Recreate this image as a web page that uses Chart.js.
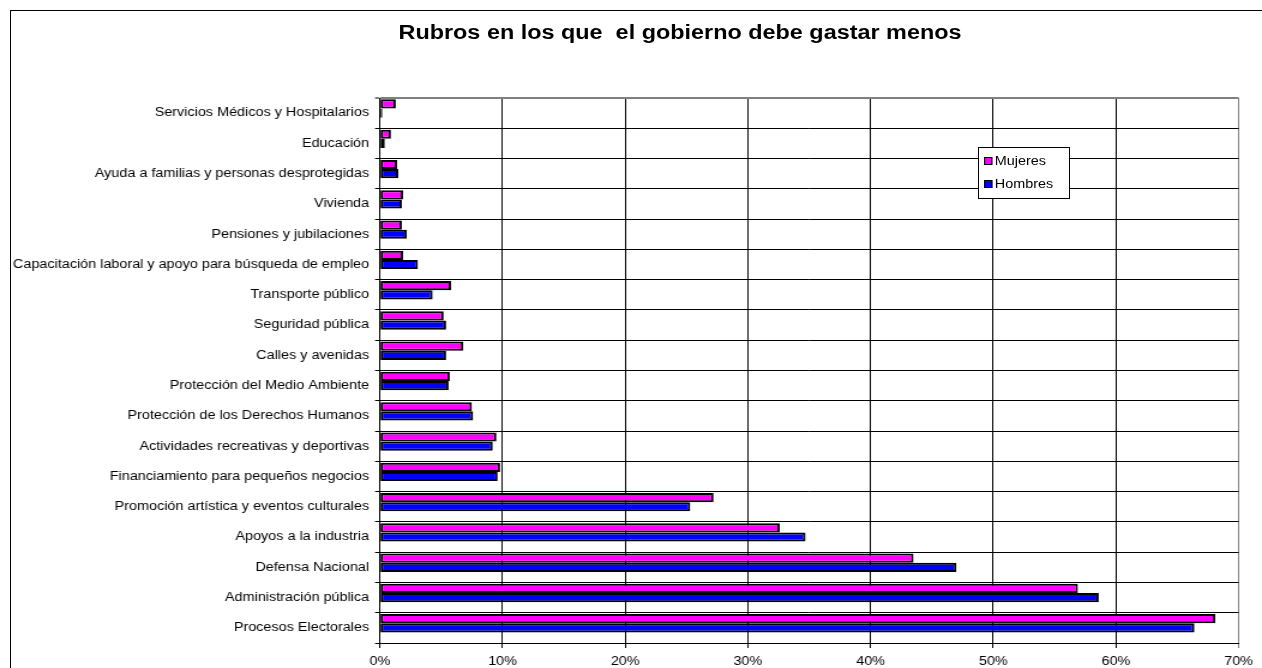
<!DOCTYPE html>
<html>
<head>
<meta charset="utf-8">
<script src="https://cdn.jsdelivr.net/npm/chart.js@4.4.0/dist/chart.umd.min.js"></script>
<style>
  body { margin: 0; background: #fff; }
  #wrap { position: relative; width: 1262px; height: 668px; overflow: hidden; }
  /* the original picture is stretched sideways, so the canvas is too */
  #chart { position: absolute; left: 0; top: 0; width: 1262px !important; height: 668px !important; }
  #frame { position: absolute; left: 10px; top: 10px; width: 1262px; height: 680px; border: 1px solid #000; box-sizing: border-box; pointer-events: none; }
  #title { position: absolute; left: 0; width: 1360px; top: 21px; text-align: center; font: bold 19.5px "Liberation Sans", Arial, sans-serif; white-space: pre; transform: scaleX(1.2); transform-origin: 680px 0; }
  #legend { position: absolute; left: 978px; top: 147px; width: 92px; height: 52px; border: 1px solid #000; background: #fff; box-sizing: border-box; font: 12px "Liberation Sans", Arial, sans-serif; }
  .item { position: absolute; left: 5px; height: 14px; line-height: 14px; transform: scaleX(1.2); transform-origin: 0 0; white-space: nowrap; }
  .sw { display: inline-block; width: 5px; height: 6px; border: 1px solid #000; margin-right: 2px; vertical-align: 0px; }
</style>
</head>
<body>
<div id="wrap">
  <canvas id="chart" width="1052" height="668"></canvas>
  <div id="frame"></div>
  <div id="title">Rubros en los que  el gobierno debe gastar menos</div>
  <div id="legend">
    <div class="item" style="top:6px"><span class="sw" style="background:#ff00ff"></span>Mujeres</div>
    <div class="item" style="top:29px"><span class="sw" style="background:#0000ff"></span>Hombres</div>
  </div>
</div>
<script>
// categorías (de arriba hacia abajo)
const rubros = [
  'Servicios Médicos y Hospitalarios',
  'Educación',
  'Ayuda a familias y personas desprotegidas',
  'Vivienda',
  'Pensiones y jubilaciones',
  'Capacitación laboral y apoyo para búsqueda de empleo',
  'Transporte público',
  'Seguridad pública',
  'Calles y avenidas',
  'Protección del Medio Ambiente',
  'Protección de los Derechos Humanos',
  'Actividades recreativas y deportivas',
  'Financiamiento para pequeños negocios',
  'Promoción artística y eventos culturales',
  'Apoyos a la industria',
  'Defensa Nacional',
  'Administración pública',
  'Procesos Electorales'
];

// porcentajes
const mujeres = [1.3, 0.9, 1.4, 1.9, 1.8, 1.9, 5.8, 5.2, 6.8, 5.7, 7.5, 9.5, 9.8, 27.2, 32.6, 43.5, 56.9, 68.1];
const hombres = [0.2, 0.4, 1.5, 1.8, 2.2, 3.1, 4.3, 5.4, 5.4, 5.6, 7.6, 9.2, 9.6, 25.3, 34.7, 47.0, 58.6, 66.4];

const xTicks = [0, 10, 20, 30, 40, 50, 60, 70];

const SX = 1.2; // estiramiento horizontal
const font = { family: '"Liberation Sans", Arial, sans-serif', size: 12 };

const chart = new Chart(document.getElementById('chart'), {
  type: 'bar',
  data: {
    labels: rubros,
    datasets: [
      { label: 'Mujeres', data: mujeres, backgroundColor: '#ff00ff', borderColor: '#000', borderWidth: 2, borderSkipped: false },
      { label: 'Hombres', data: hombres, backgroundColor: '#0000ff', borderColor: '#000', borderWidth: 2, borderSkipped: false },
      // hueco vacío debajo de cada par, como en Excel
      { label: '', data: rubros.map(() => null) }
    ]
  },
  options: {
    indexAxis: 'y',
    responsive: false,
    animation: false,
    categoryPercentage: 0.91,
    barPercentage: 1.0,
    layout: { padding: { top: 98, right: 1052 - 1239 / SX, left: 0, bottom: 0 } },
    plugins: { legend: { display: false }, title: { display: false }, tooltip: { enabled: false } },
    scales: {
      x: {
        min: 0, max: 70,
        afterBuildTicks: s => { s.ticks = xTicks.map(v => ({ value: v })); },
        afterFit: s => { s.height = 25; },
        grid: { color: c => (c.tick && c.tick.value === 70) ? '#808080' : '#000', lineWidth: 1, tickLength: 5 },
        border: { color: '#000', width: 1 },
        ticks: { color: '#000', font, padding: 6, maxRotation: 0, callback: v => v + '%' }
      },
      y: {
        afterFit: s => { s.width = 380 / SX; },
        grid: { color: c => c.index === 0 ? '#808080' : '#000', lineWidth: c => c.index === 0 ? 2 : 1, tickLength: 4, offset: true },
        border: { color: '#000', width: 1 },
        ticks: { color: '#000', font, padding: 5, autoSkip: false }
      }
    }
  }
});
chart.canvas.style.width = '1262px';
chart.canvas.style.height = '668px';
</script>
</body>
</html>
